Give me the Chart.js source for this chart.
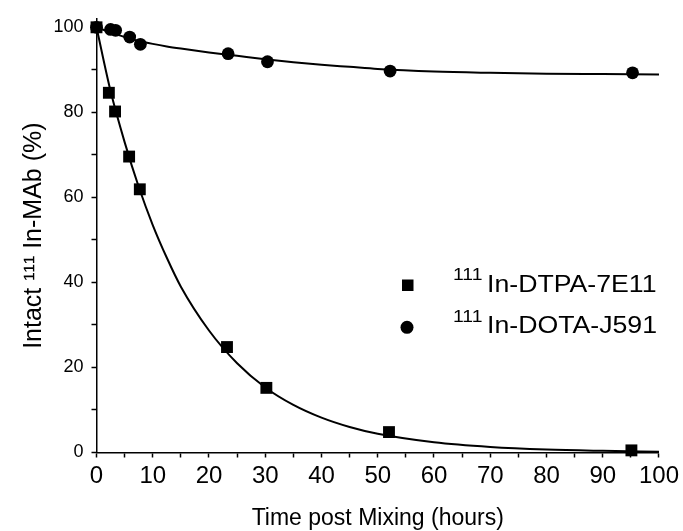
<!DOCTYPE html>
<html>
<head>
<meta charset="utf-8">
<script src="https://cdn.jsdelivr.net/npm/chart.js@4"></script>
<style>
  html, body { margin: 0; padding: 0; background: #fff; }
  #wrap { width: 683px; height: 531px; }
</style>
</head>
<body>
<div id="wrap"><canvas id="decayChart"></canvas></div>
<script>
// measured points (hours, % intact)
const timesDTPA = [0, 2.2, 3.3, 5.8, 7.7, 23.2, 30.2, 52.0, 95.1];
const intactDTPA = [100, 84.6, 80.2, 69.6, 61.9, 24.8, 15.2, 4.8, 0.5];
const timesDOTA = [0, 2.5, 3.4, 5.9, 7.8, 23.4, 30.4, 52.2, 95.3];
const intactDOTA = [100, 99.5, 99.3, 97.7, 96.0, 93.8, 91.9, 89.7, 89.3];

// fitted curves
const fitTimes = [0, 2.5, 5, 7.5, 10, 12.5, 15, 20, 25, 30, 35, 40, 45, 50, 60, 70, 80, 90, 100];
const fitDTPA = [100, 85, 73, 62.5, 53.5, 45.8, 39, 28.7, 21, 15.3, 11.2, 8.2, 6, 4.4, 2.4, 1.3, 0.7, 0.4, 0.2];
const fitDOTA = [100, 98.8, 97.7, 96.8, 96.1, 95.5, 95.0, 94.1, 93.3, 92.5, 91.8, 91.2, 90.7, 90.2, 89.6, 89.3, 89.1, 89.0, 88.9];

const seriesNames = ['In-DTPA-7E11', 'In-DOTA-J591'];
const isotope = '111';

const xTicks = [0, 5, 10, 15, 20, 25, 30, 35, 40, 45, 50, 55, 60, 65, 70, 75, 80, 85, 90, 95, 100];
const yTicks = [0, 10, 20, 30, 40, 50, 60, 70, 80, 90, 100];

const FONT = "'Liberation Sans', Arial, sans-serif";

const toXY = (xs, ys) => xs.map((x, i) => ({ x: x, y: ys[i] }));

// legend drawn inside the plot, like the original figure
const insideLegend = {
  id: 'insideLegend',
  afterDraw(chart) {
    const ctx = chart.ctx;
    ctx.save();
    ctx.fillStyle = '#000';
    // markers
    ctx.fillRect(402, 279.5, 11.5, 11.5);
    ctx.beginPath();
    ctx.arc(407, 327.3, 6.5, 0, Math.PI * 2);
    ctx.fill();
    // labels with superscript mass number
    const rows = [291.7, 333.3];
    rows.forEach((base, i) => {
      ctx.save();
      ctx.translate(453, base - 11.5);
      ctx.scale(1.14, 1);
      ctx.font = '17px ' + FONT;
      ctx.textBaseline = 'alphabetic';
      ctx.fillText(isotope, 0, 0);
      ctx.restore();
      ctx.save();
      ctx.translate(487, base);
      ctx.scale(1.16, 1);
      ctx.font = '23px ' + FONT;
      ctx.textBaseline = 'alphabetic';
      ctx.fillText(seriesNames[i], 0, 0);
      ctx.restore();
    });
    ctx.restore();
  }
};

const config = {
  type: 'scatter',
  data: {
    datasets: [
      {
        type: 'line',
        label: 'fit ' + seriesNames[0],
        data: toXY(fitTimes, fitDTPA),
        borderColor: '#000',
        borderWidth: 2,
        pointRadius: 0,
        cubicInterpolationMode: 'monotone',
        fill: false,
        clip: false
      },
      {
        type: 'line',
        label: 'fit ' + seriesNames[1],
        data: toXY(fitTimes, fitDOTA),
        borderColor: '#000',
        borderWidth: 2,
        pointRadius: 0,
        cubicInterpolationMode: 'monotone',
        fill: false,
        clip: false
      },
      {
        label: seriesNames[1],
        data: toXY(timesDOTA, intactDOTA),
        pointStyle: 'circle',
        pointRadius: 6.4,
        backgroundColor: '#000',
        borderColor: '#000',
        borderWidth: 0,
        clip: false
      },
      {
        label: seriesNames[0],
        data: toXY(timesDTPA, intactDTPA),
        pointStyle: 'rect',
        pointRadius: 8.4,
        backgroundColor: '#000',
        borderColor: '#000',
        borderWidth: 0,
        clip: false
      }
    ]
  },
  options: {
    responsive: true,
    maintainAspectRatio: false,
    animation: false,
    layout: { padding: { top: 16, right: 23, bottom: 0, left: 0 } },
    plugins: {
      legend: { display: false },
      tooltip: { enabled: false }
    },
    scales: {
      x: {
        type: 'linear',
        min: 0,
        max: 100,
        afterBuildTicks: (scale) => { scale.ticks = xTicks.map(v => ({ value: v })); },
        afterFit: (scale) => { scale.height = 78.5; },
        grid: { drawOnChartArea: false, drawTicks: true, tickLength: 5, color: '#000', tickWidth: 1.5 },
        border: { color: '#000', width: 1.5 },
        ticks: {
          color: '#000',
          padding: 4,
          maxRotation: 0,
          autoSkip: false,
          font: { family: FONT, size: 24 },
          callback: (v) => (v % 10 === 0 ? String(v) : '')
        },
        title: {
          display: true,
          text: 'Time post Mixing (hours)',
          color: '#000',
          font: { family: FONT, size: 23 },
          padding: { top: 0, bottom: -1 }
        }
      },
      y: {
        type: 'linear',
        min: 0,
        max: 102,
        afterBuildTicks: (scale) => { scale.ticks = yTicks.map(v => ({ value: v })); },
        afterFit: (scale) => { scale.width = 96.5; },
        grid: { drawOnChartArea: false, drawTicks: true, tickLength: 5, color: '#000', tickWidth: 1.5 },
        border: { color: '#000', width: 1.5 },
        ticks: {
          color: '#000',
          padding: 8,
          autoSkip: false,
          font: { family: FONT, size: 18 },
          callback: (v) => (v % 20 === 0 ? String(v) : '')
        },
        title: {
          display: true,
          text: 'Intact ¹¹¹ In-MAb (%)',
          color: '#000',
          font: { family: FONT, size: 25 },
          padding: { top: 19, bottom: 0 }
        }
      }
    }
  },
  plugins: [insideLegend]
};

var ctx = document.getElementById('decayChart').getContext('2d');
var decayChart = new Chart(ctx, config);
</script>
</body>
</html>
